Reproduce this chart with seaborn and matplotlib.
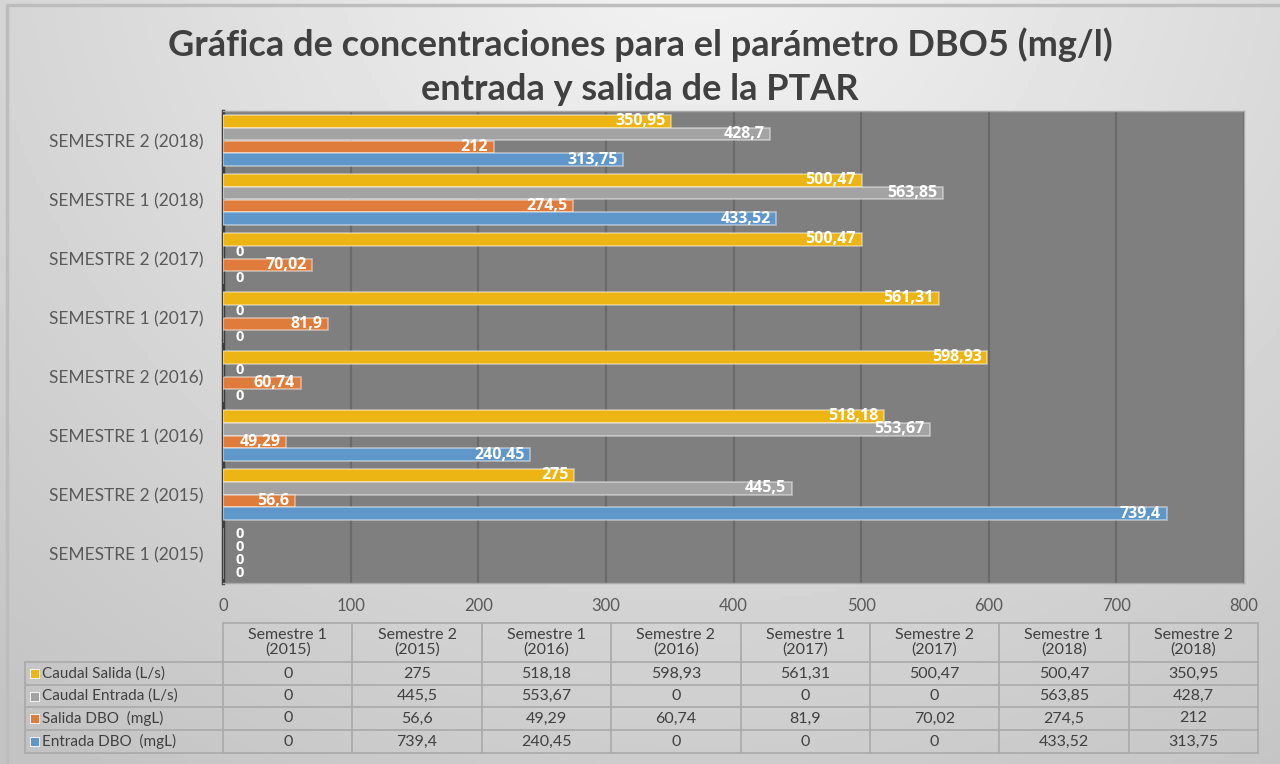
import numpy as np
import pandas as pd
import matplotlib.pyplot as plt
import seaborn as sns
from matplotlib.patches import Rectangle

# datos
periodos = ["Semestre 1 (2015)", "Semestre 2 (2015)", "Semestre 1 (2016)", "Semestre 2 (2016)",
            "Semestre 1 (2017)", "Semestre 2 (2017)", "Semestre 1 (2018)", "Semestre 2 (2018)"]
series = ["Caudal Salida (L/s)", "Caudal Entrada (L/s)", "Salida DBO  (mgL)", "Entrada DBO  (mgL)"]
caudal_salida = [0, 275, 518.18, 598.93, 561.31, 500.47, 500.47, 350.95]
caudal_entrada = [0, 445.5, 553.67, 0, 0, 0, 563.85, 428.7]
salida_dbo = [0, 56.6, 49.29, 60.74, 81.9, 70.02, 274.5, 212]
entrada_dbo = [0, 739.4, 240.45, 0, 0, 0, 433.52, 313.75]
colores = ["#ECB513", "#A3A3A3", "#DF7B3B", "#5F97CA"]

valores = [caudal_salida, caudal_entrada, salida_dbo, entrada_dbo]
df = pd.DataFrame({
    "periodo": periodos * len(series),
    "serie": np.repeat(series, len(periodos)),
    "valor": np.concatenate(valores),
})


def fmt(v):
    return f"{v:g}".replace(".", ",")


sns.set_theme(style="white")
plt.rcParams["font.family"] = ["Lato", "DejaVu Sans"]

W, H = 1280, 764
fig = plt.figure(figsize=(12.8, 7.64), dpi=100)

# fondo con degradado
bg = fig.add_axes([0, 0, 1, 1])
bg.set_zorder(-1)
bg.set_xlim(0, W)
bg.set_ylim(H, 0)
bg.axis("off")
yy, xx = np.mgrid[0:H:4, 0:W:4]
d = np.sqrt(((xx - 700) / 900.0) ** 2 + ((yy + 80) / 850.0) ** 2)
img = 0.96 - 0.16 * np.clip(d, 0, 1.2)
bg.imshow(img, cmap="gray", vmin=0, vmax=1, extent=[0, W, H, 0], aspect="auto", zorder=0)
bg.plot([7, 7, W], [H, 5, 5], color="#bdbdbd", lw=2.5, zorder=1)

# grafico de barras
x0, x1, ytop, ybot = 223, 1244, 111, 583
ax = fig.add_axes([x0 / W, 1 - ybot / H, (x1 - x0) / W, (ybot - ytop) / H])
orden = periodos[::-1]
sns.barplot(data=df, y="periodo", x="valor", hue="serie", order=orden, hue_order=series,
            palette=colores, orient="h", width=0.88, edgecolor=(1, 1, 1, 0.45),
            linewidth=1.2, saturation=1, legend=False, ax=ax, zorder=3)
ax.set_facecolor("#7f7f7f")
ax.set_xlim(0, 800)
ax.set_xticks(range(0, 801, 100))
ax.set_yticks(range(len(orden)))
ax.set_yticklabels([p.upper() for p in orden])
ax.set_xlabel("")
ax.set_ylabel("")
ax.grid(axis="x", color="#6a6a6a", lw=1.6, zorder=1)
ax.set_axisbelow(True)
ax.tick_params(axis="x", length=0, pad=11, labelsize=12, labelcolor="#595959")
ax.tick_params(axis="y", length=0, pad=14, labelsize=12.5, labelcolor="#595959")
ax.spines["left"].set_color("#3f3f3f")
ax.spines["left"].set_linewidth(2.5)
for s in ["top", "right", "bottom"]:
    ax.spines[s].set_color("#a8a8a8")
    ax.spines[s].set_linewidth(1)

for cont in ax.containers:
    for rect in cont:
        v = rect.get_width()
        yc = rect.get_y() + rect.get_height() / 2
        if v > 0:
            ax.annotate(fmt(v), (v, yc), xytext=(-4, 0), textcoords="offset points",
                        ha="right", va="center", color="white", fontsize=11.5,
                        fontweight="bold", family=["Open Sans", "DejaVu Sans"], zorder=5)
        else:
            ax.annotate(fmt(v), (0, yc), xytext=(9, 0), textcoords="offset points",
                        ha="left", va="center", color="white", fontsize=10.5,
                        fontweight="bold", family=["Open Sans", "DejaVu Sans"], zorder=5)

# titulo
fig.text(0.5, 1 - 45 / H, "Gráfica de concentraciones para el parámetro DBO5 (mg/l)",
         ha="center", va="center", fontsize=26, fontweight="bold", color="#404040")
fig.text(0.5, 1 - 89 / H, "entrada y salida de la PTAR",
         ha="center", va="center", fontsize=26, fontweight="bold", color="#404040")

# tabla de datos
tx0, tx1 = 25, 1258
cw = (tx1 - x0) / len(periodos)
bordes_x = [x0 + i * cw for i in range(len(periodos) + 1)]
fila_y = [623, 662, 685, 707, 730, 753]
lc = "#a9a9a9"
bg.plot([x0, tx1], [fila_y[0], fila_y[0]], color=lc, lw=1.2)
for bx in bordes_x:
    bg.plot([bx, bx], [fila_y[0], fila_y[-1]], color=lc, lw=1.2)
for yv in fila_y[1:]:
    bg.plot([tx0, tx1], [yv, yv], color=lc, lw=1.2)
bg.plot([tx0, tx0], [fila_y[1], fila_y[-1]], color=lc, lw=1.2)
for i, p in enumerate(periodos):
    cx = bordes_x[i] + cw / 2
    nombre, anio = p.split(" (")
    bg.text(cx, (fila_y[0] + fila_y[1]) / 2, nombre + "\n(" + anio, ha="center", va="center",
            fontsize=11.5, color="#404040", linespacing=1.0)
for j, (serie, vals, col) in enumerate(zip(series, valores, colores)):
    yc = (fila_y[j + 1] + fila_y[j + 2]) / 2
    bg.add_patch(Rectangle((30, yc - 4.5), 9, 9, facecolor=col, edgecolor="white", lw=0.6))
    bg.text(42, yc, serie, ha="left", va="center", fontsize=11, color="#404040")
    for i, v in enumerate(vals):
        bg.text(bordes_x[i] + cw / 2, yc, fmt(v), ha="center", va="center",
                fontsize=11.5, color="#404040")

fig.savefig("out.png", dpi=100)
